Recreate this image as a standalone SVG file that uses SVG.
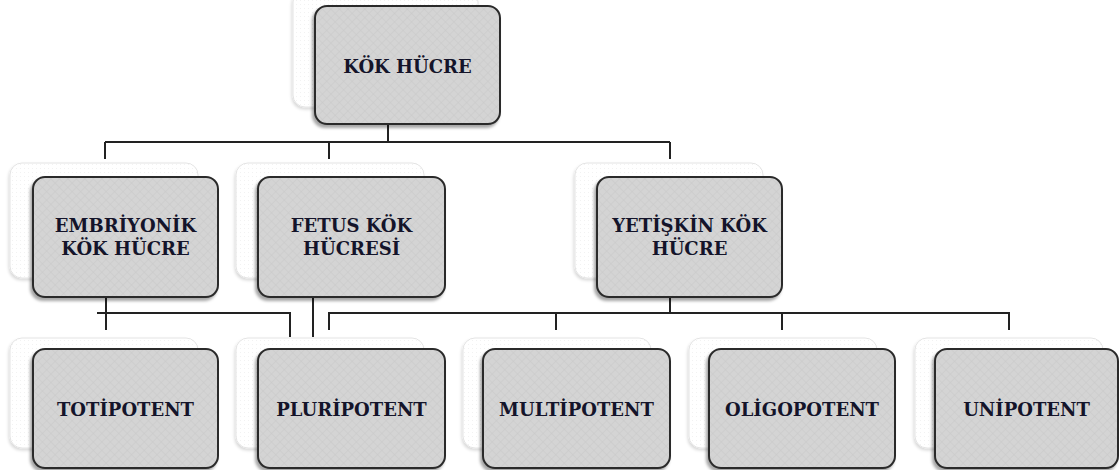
<svg xmlns="http://www.w3.org/2000/svg" width="1119" height="470" viewBox="0 0 1119 470">
<defs>
<pattern id="hatch" width="6" height="6" patternUnits="userSpaceOnUse" patternTransform="rotate(45)">
<rect width="6" height="6" fill="#d4d4d4"/>
<path d="M0 0V6M0 0H6" stroke="#c9c9c9" stroke-width="1"/>
</pattern>
<pattern id="dots" width="4" height="4" patternUnits="userSpaceOnUse">
<rect width="4" height="4" fill="#ffffff"/>
<rect width="1" height="1" fill="#f2f2f2"/>
</pattern>
<filter id="sh" x="-10%" y="-10%" width="120%" height="125%">
<feDropShadow dx="-2" dy="3" stdDeviation="1.8" flood-color="#000" flood-opacity="0.35"/>
</filter>
<filter id="sh2" x="-10%" y="-10%" width="120%" height="125%">
<feDropShadow dx="-1" dy="2" stdDeviation="1.5" flood-color="#000" flood-opacity="0.15"/>
</filter>
</defs>
<style>
.back{fill:url(#dots);stroke:#e4e4e4;stroke-width:1;filter:url(#sh2)}
.box{fill:url(#hatch);stroke:#2b2b2b;stroke-width:2;filter:url(#sh)}
.t{font-family:"DejaVu Serif","Liberation Serif",serif;font-weight:bold;font-size:18px;fill:#14142a;text-anchor:middle}
.c{fill:none;stroke:#222;stroke-width:2}
</style>
<g id="connectors">
<path class="c" d="M388 124V142M105 142H670M105 142V159M329 142V159M670 142V159"/>
<path class="c" d="M106 297V330M97 313H290V337"/>
<path class="c" d="M313 289V337"/>
<path class="c" d="M670 297V313M329 330V313H1009V330M556 313V330M782 313V330"/>
</g>
<g id="kok-hucre">
<rect class="back" x="293" y="-10" width="185" height="117" rx="12"/>
<rect class="box" x="315" y="6" width="185" height="118" rx="12"/>
<text class="t" x="407.5" y="73">KÖK HÜCRE</text>
</g>
<g id="embriyonik">
<rect class="back" x="10" y="163" width="188" height="115" rx="12"/>
<rect class="box" x="33" y="177" width="185" height="120" rx="12"/>
<text class="t" x="125.5" y="232">EMBRİYONİK</text>
<text class="t" x="125.5" y="255">KÖK HÜCRE</text>
</g>
<g id="fetus">
<rect class="back" x="236" y="163" width="188" height="115" rx="12"/>
<rect class="box" x="258" y="177" width="187" height="120" rx="12"/>
<text class="t" x="351.5" y="232">FETUS KÖK</text>
<text class="t" x="351.5" y="255">HÜCRESİ</text>
</g>
<g id="yetiskin">
<rect class="back" x="575" y="163" width="188" height="115" rx="12"/>
<rect class="box" x="597" y="177" width="185" height="120" rx="12"/>
<text class="t" x="689.5" y="232">YETİŞKİN KÖK</text>
<text class="t" x="689.5" y="255">HÜCRE</text>
</g>
<g id="totipotent">
<rect class="back" x="10" y="338" width="188" height="110" rx="12"/>
<rect class="box" x="33" y="349" width="185" height="119" rx="12"/>
<text class="t" x="125.5" y="416">TOTİPOTENT</text>
</g>
<g id="pluripotent">
<rect class="back" x="236" y="338" width="188" height="110" rx="12"/>
<rect class="box" x="258" y="349" width="187" height="119" rx="12"/>
<text class="t" x="351.5" y="416">PLURİPOTENT</text>
</g>
<g id="multipotent">
<rect class="back" x="463" y="338" width="188" height="110" rx="12"/>
<rect class="box" x="483" y="349" width="187" height="119" rx="12"/>
<text class="t" x="576.5" y="416">MULTİPOTENT</text>
</g>
<g id="oligopotent">
<rect class="back" x="689" y="338" width="188" height="110" rx="12"/>
<rect class="box" x="709" y="349" width="186" height="119" rx="12"/>
<text class="t" x="802" y="416">OLİGOPOTENT</text>
</g>
<g id="unipotent">
<rect class="back" x="915" y="338" width="188" height="110" rx="12"/>
<rect class="box" x="935" y="349" width="183" height="119" rx="12"/>
<text class="t" x="1026.5" y="416">UNİPOTENT</text>
</g>
</svg>
